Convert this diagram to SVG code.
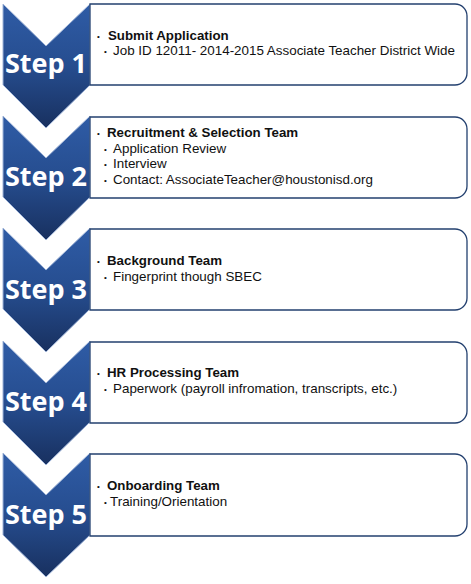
<svg xmlns="http://www.w3.org/2000/svg" width="471" height="584" viewBox="0 0 471 584">
<defs>
<linearGradient id="chev" x1="0" y1="0" x2="0" y2="1">
<stop offset="0" stop-color="#2f5ca6"/>
<stop offset="0.5" stop-color="#264d8f"/>
<stop offset="1" stop-color="#18305f"/>
</linearGradient>
<style>
.chev{fill:url(#chev);stroke:#9fb4d8;stroke-width:1}
.step{font-family:"Open Sans","Noto Sans",sans-serif;font-weight:bold;font-size:27px;fill:#ffffff;text-anchor:middle}
.box{fill:#ffffff;stroke:#23406f;stroke-width:1.3}
.t{font-family:"Liberation Sans",Arial,sans-serif;font-size:13.4px;fill:#111111}
.b{font-weight:bold;font-size:13.3px}
.bul{font-family:"Liberation Sans",Arial,sans-serif;font-size:8px;fill:#111111}
</style>
</defs>
<g id="connectors"></g>
<g id="step1">
<path class="chev" d="M3,4 L46,46 L90,4 L90,85 L46,128 L3,85 Z"/>
<text class="step" x="46" y="73">Step 1</text>
<path class="box" d="M90,4 H455 A12,12 0 0 1 467,16 V73 A12,12 0 0 1 455,85 H90 Z"/>
<text class="bul" x="97" y="39">•</text><text class="t b" x="108" y="40">Submit Application</text>
<text class="bul" x="104" y="54">•</text><text class="t" x="113" y="55">Job ID 12011- 2014-2015 Associate Teacher District Wide</text>
</g>
<g id="step2">
<path class="chev" d="M3,116 L46,158 L90,116 L90,197 L46,240 L3,197 Z"/>
<text class="step" x="46" y="186">Step 2</text>
<path class="box" d="M90,117 H455 A12,12 0 0 1 467,129 V186 A12,12 0 0 1 455,198 H90 Z"/>
<text class="bul" x="97" y="136">•</text><text class="t b" x="107" y="137">Recruitment &amp; Selection Team</text>
<text class="bul" x="104" y="152">•</text><text class="t" x="113" y="153">Application Review</text>
<text class="bul" x="104" y="167">•</text><text class="t" x="113" y="168">Interview</text>
<text class="bul" x="104" y="183">•</text><text class="t" x="113" y="184">Contact: AssociateTeacher@houstonisd.org</text>
</g>
<g id="step3">
<path class="chev" d="M3,228 L46,270 L90,228 L90,309 L46,352 L3,309 Z"/>
<text class="step" x="46" y="299">Step 3</text>
<path class="box" d="M90,229 H455 A12,12 0 0 1 467,241 V298 A12,12 0 0 1 455,310 H90 Z"/>
<text class="bul" x="97" y="264">•</text><text class="t b" x="107" y="265">Background Team</text>
<text class="bul" x="104" y="280">•</text><text class="t" x="113" y="281">Fingerprint though SBEC</text>
</g>
<g id="step4">
<path class="chev" d="M3,341 L46,383 L90,341 L90,422 L46,465 L3,422 Z"/>
<text class="step" x="46" y="411">Step 4</text>
<path class="box" d="M90,342 H455 A12,12 0 0 1 467,354 V411 A12,12 0 0 1 455,423 H90 Z"/>
<text class="bul" x="97" y="376">•</text><text class="t b" x="107" y="377">HR Processing Team</text>
<text class="bul" x="104" y="392">•</text><text class="t" x="113" y="393">Paperwork (payroll infromation, transcripts, etc.)</text>
</g>
<g id="step5">
<path class="chev" d="M3,453 L46,495 L90,453 L90,535 L46,577 L3,535 Z"/>
<text class="step" x="46" y="524">Step 5</text>
<path class="box" d="M90,454 H455 A12,12 0 0 1 467,466 V524 A12,12 0 0 1 455,536 H90 Z"/>
<text class="bul" x="97" y="489">•</text><text class="t b" x="107" y="490">Onboarding Team</text>
<text class="bul" x="104" y="505">•</text><text class="t" x="110" y="506">Training/Orientation</text>
</g>
</svg>
